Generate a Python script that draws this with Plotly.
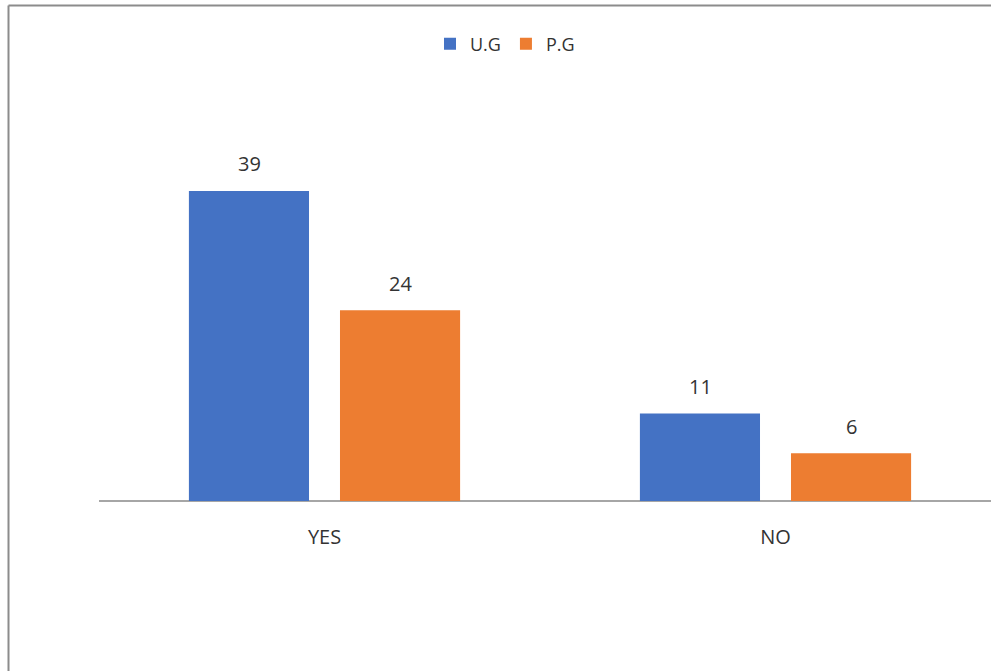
import plotly.graph_objects as go

# Survey responses by programme level
categories = ["YES", "NO"]
ug_values = [39, 11]
pg_values = [24, 6]
series_names = ["U.G", "P.G"]
series_colors = ["#4472C4", "#ED7D31"]

FONT = "Open Sans, Noto Sans, sans-serif"
TEXT_COLOR = "#333333"

W, H = 991, 671
L, R, T, B = 99, 0, 70, 170
plot_w = W - L - R
plot_h = H - T - B
cat_px = 451.0          # pixel width of one category slot
px_per_unit = 7.95      # vertical scale

fig = go.Figure()
for name, vals, color in zip(series_names, [ug_values, pg_values], series_colors):
    fig.add_trace(go.Bar(
        x=categories, y=vals, name=name,
        marker=dict(color=color, line=dict(width=0)),
    ))

# value labels above each bar
offsets = [-75.5, 75.5]
annotations = []
for vals, dx in zip([ug_values, pg_values], offsets):
    for cat, v in zip(categories, vals):
        annotations.append(dict(
            x=cat, y=v, xref="x", yref="y", text=str(v), showarrow=False,
            xshift=dx, yshift=27, font=dict(family=FONT, size=20, color=TEXT_COLOR),
        ))

# outer frame (left and top edges)
fx = (8.5 - L) / plot_w
fy_top = (H - B - 5.5) / plot_h
fy_bot = -(B + 5) / plot_h
shapes = [
    dict(type="line", xref="paper", yref="paper", x0=fx, x1=fx, y0=fy_bot, y1=fy_top,
         line=dict(color="#8c8c8c", width=2)),
    dict(type="line", xref="paper", yref="paper", x0=fx, x1=1.02, y0=fy_top, y1=fy_top,
         line=dict(color="#8c8c8c", width=2)),
]

fig.update_layout(
    width=W, height=H,
    margin=dict(l=L, r=R, t=T, b=B, pad=0),
    paper_bgcolor="white", plot_bgcolor="white",
    barmode="group", bargap=0.330, bargroupgap=0.205,
    showlegend=True,
    legend=dict(orientation="h", x=(505 - L) / plot_w, y=(H - B - 44) / plot_h,
                xanchor="center", yanchor="middle",
                font=dict(family=FONT, size=18, color=TEXT_COLOR),
                itemwidth=30, tracegroupgap=0, bgcolor="rgba(0,0,0,0)"),
    annotations=annotations,
    shapes=shapes,
    xaxis=dict(
        type="category", range=[-0.5, -0.5 + plot_w / cat_px],
        showgrid=False, zeroline=False, showline=False,
        ticks="", ticklabelstandoff=22,
        tickfont=dict(family=FONT, size=20, color=TEXT_COLOR),
    ),
    yaxis=dict(
        range=[0, plot_h / px_per_unit], showgrid=False, zeroline=True,
        zerolinecolor="#a6a6a6", zerolinewidth=1.5,
        showticklabels=False, showline=False, ticks="",
    ),
)

fig.write_html("out.html")
